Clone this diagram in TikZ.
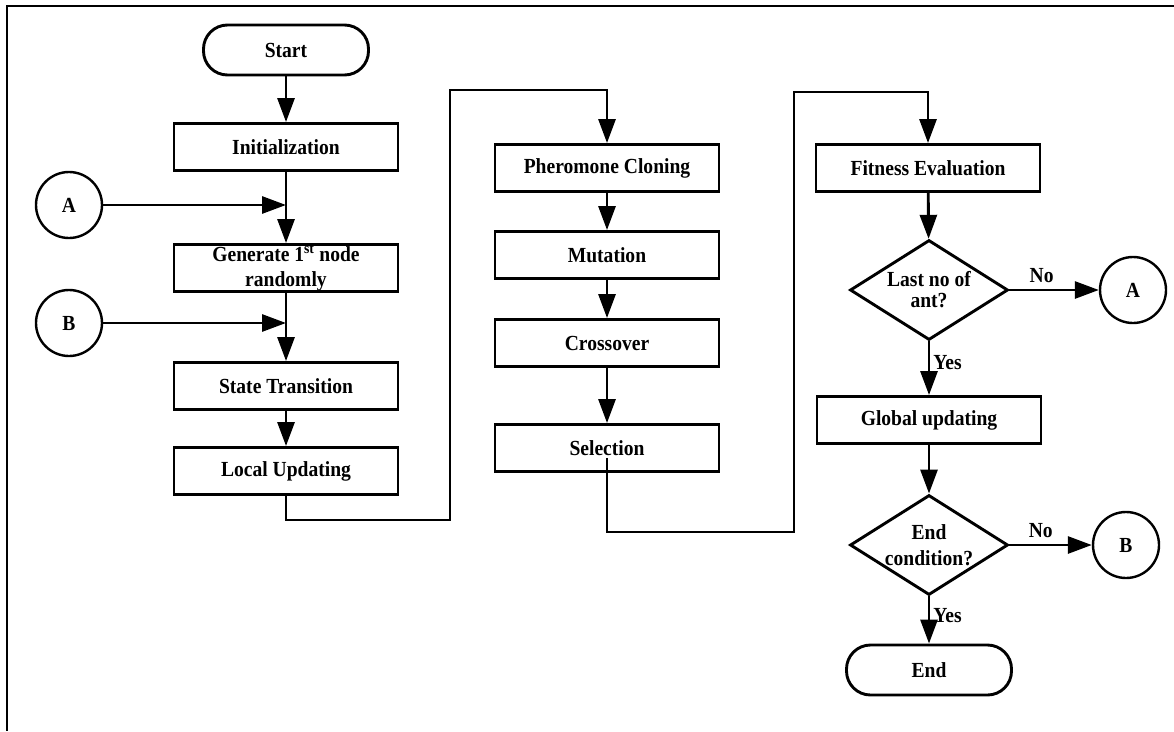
\documentclass[tikz,border=0pt]{standalone}
\usepackage{fontspec}
\setmainfont{Liberation Serif}[FakeStretch=0.91]
\usetikzlibrary{arrows.meta,shapes.geometric}
\begin{document}
\begin{tikzpicture}[x=1pt,y=-1pt,
  every node/.style={font=\fontsize{21.5}{25}\selectfont\bfseries, text=black},
  stepbox/.style={draw, line width=2.9pt, minimum width=224pt, minimum height=47pt, inner sep=0pt, align=center},
  term/.style={draw, line width=2.9pt, rounded corners=24pt, minimum width=165pt, minimum height=50pt, inner sep=0pt},
  conn/.style={draw, circle, line width=2.4pt, minimum size=66pt, inner sep=0pt},
  dec/.style={draw, diamond, line width=2.9pt, shape aspect=1.6, minimum width=158pt, minimum height=100pt, inner sep=0pt, align=center},
  arr/.style={-{Triangle[length=24pt,width=17pt]}, line width=2.9pt},
  ln/.style={line width=2.9pt},
  lbl/.style={inner sep=0pt}
]
\useasboundingbox (0,0) rectangle (1174,731);
\draw[ln] (1174,6) -- (7,6) -- (7,731);

% column 1
\node[term] (start) at (286,50) {Start};
\node[stepbox] (init) at (286,147) {Initialization};
\node[stepbox] (gen) at (286,268) {Generate 1\textsuperscript{st} node\\[0pt]randomly};
\node[stepbox] (st) at (286,386) {State Transition};
\node[stepbox] (lu) at (286,471) {Local Updating};
\node[conn] (A) at (69,205) {A};
\node[conn] (B) at (69,323) {B};

% column 2
\node[stepbox] (pc) at (607,168) {Pheromone Cloning};
\node[stepbox] (mut) at (607,255) {Mutation};
\node[stepbox] (cro) at (607,343) {Crossover};
\node[stepbox] (sel) at (607,448) {Selection};

% column 3
\node[stepbox] (fit) at (928,168) {Fitness Evaluation};
\node[dec] (d1) at (929,290) {Last no of\\[-4pt]ant?};
\node[stepbox] (glob) at (929,420) {Global updating};
\node[dec] (d2) at (929,545) {End\\[1pt]condition?};
\node[term] (end) at (929,670) {End};
\node[conn] (A2) at (1133,290) {A};
\node[conn] (B2) at (1126,545) {B};

% connectors
\draw[arr] (start) -- (init);
\draw[arr] (init) -- (gen);
\draw[arr] (A.east) -- (A.east -| init.south);
\draw[arr] (gen) -- (st);
\draw[arr] (B.east) -- (B.east -| gen.south);
\draw[arr] (st) -- (lu);

\coordinate (b1) at (286,520);
\coordinate (b2) at (450,90);
\draw[arr] (lu.south) -- (b1) -| (b2) -| (pc.north);

\draw[arr] (pc) -- (mut);
\draw[arr] (mut) -- (cro);
\draw[arr] (cro) -- (sel);

\coordinate (c1) at (607,532);
\coordinate (c2) at (794,92);
\draw[arr] (sel.south) ++(0,-15) -- (c1) -| (c2) -| (fit.north);

\draw[arr] (fit) -- (d1);
\draw[arr] (d1.east) -- node[lbl, above=6pt, pos=0.36] {No} (A2.west);
\draw[arr] (d1.south) -- node[lbl, right=3pt, pos=0.4] {Yes} (glob.north);
\draw[arr] (glob) -- (d2);
\draw[arr] (d2.east) -- node[lbl, above=6pt, pos=0.38] {No} (B2.west);
\draw[arr] (d2.south) -- node[lbl, right=3pt, pos=0.4] {Yes} (end.north);
\end{tikzpicture}
\end{document}
